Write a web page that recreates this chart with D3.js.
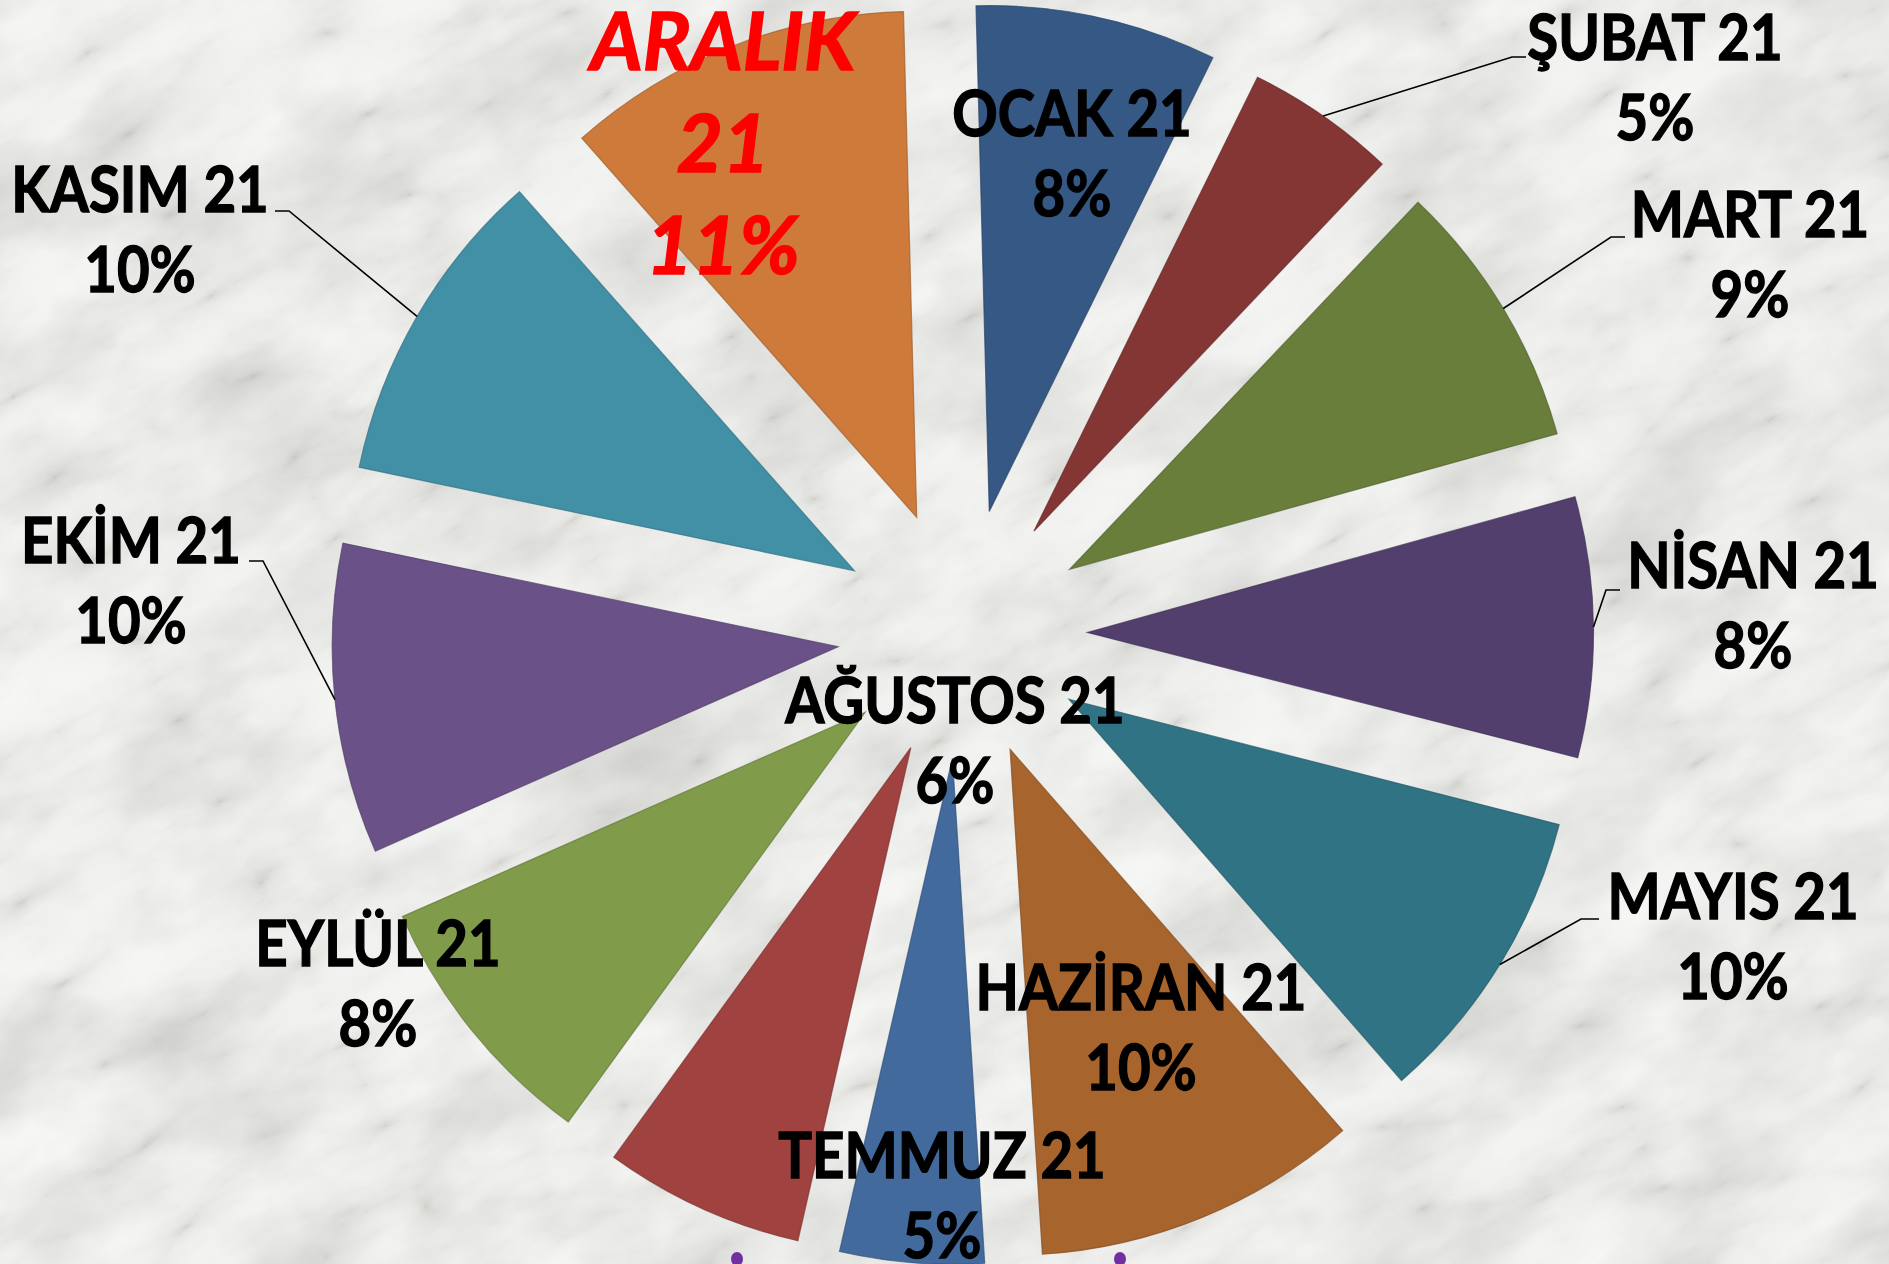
<!DOCTYPE html>
<html>
<head>
<meta charset="utf-8">
<script src="https://cdn.jsdelivr.net/npm/d3@7"></script>
<style>
  html, body { margin: 0; padding: 0; background: #f0f0ee; overflow: hidden; }
  svg { display: block; }
</style>
</head>
<body>
<svg id="chart" width="1889" height="1264"></svg>
<script>
// Monthly shares (percent of the year total)
const months = ["OCAK 21", "ŞUBAT 21", "MART 21", "NİSAN 21", "MAYIS 21", "HAZİRAN 21",
                "TEMMUZ 21", "AĞUSTOS 21", "EYLÜL 21", "EKİM 21", "KASIM 21", "ARALIK 21"];
const shares = [7.7, 4.8, 8.6, 8.3, 9.6, 10.4, 4.6, 6.4, 8.4, 9.9, 10.2, 11.1];
const sliceColors = ["#355885", "#843634", "#6a7e3b", "#533f6e", "#2f7385", "#a8642d",
                     "#426a9c", "#a04240", "#809b4a", "#6a5288", "#4190a6", "#cd7a3b"];

// Label placement: first-line baseline, and optional leader elbow
const labelLayout = [
  { x: 1072, y: 136 },
  { x: 1655, y: 60,  elbow: [1512, 57],  tail: 14 },
  { x: 1750, y: 237, elbow: [1611, 237], tail: 14 },
  { x: 1753, y: 588, elbow: [1606, 590], tail: 14 },
  { x: 1733, y: 919, elbow: [1581, 919], tail: 18 },
  { x: 1141, y: 1010 },
  { x: 942,  y: 1178 },
  { x: 955,  y: 723 },
  { x: 378,  y: 966 },
  { x: 131,  y: 563, elbow: [263, 561], tail: -14 },
  { x: 140,  y: 212, elbow: [289, 211], tail: -14 },
  { x: 723,  y: 70, highlight: true }
];

const W = 1889, H = 1264;
const cx = 962.5, cy = 633.7, R = 506, explode = 125;
const rotation = -1.5 * Math.PI / 180;
const fontSize = 64, lineGap = 80, squeeze = 0.88;

const svg = d3.select("#chart");
const defs = svg.append("defs");

// Marble backdrop: fine grey veins with a faint cloudy shading
const f = defs.append("filter").attr("id", "marble")
  .attr("x", 0).attr("y", 0).attr("width", "100%").attr("height", "100%")
  .attr("color-interpolation-filters", "sRGB");
f.append("feTurbulence").attr("type", "turbulence")
  .attr("baseFrequency", "0.0045 0.011").attr("numOctaves", 6).attr("seed", 11).attr("result", "t");
f.append("feColorMatrix").attr("in", "t").attr("type", "matrix")
  .attr("values", "0.34 0.33 0.33 0 0  0.34 0.33 0.33 0 0  0.34 0.33 0.33 0 0  0 0 0 0 1")
  .attr("result", "g");
const ct = f.append("feComponentTransfer").attr("in", "g").attr("result", "veins");
ct.append("feFuncR").attr("type", "table").attr("tableValues", "0.83 0.905 0.94 0.958 0.968 0.972 0.975");
ct.append("feFuncG").attr("type", "table").attr("tableValues", "0.83 0.905 0.94 0.958 0.968 0.972 0.975");
ct.append("feFuncB").attr("type", "table").attr("tableValues", "0.815 0.895 0.932 0.952 0.963 0.967 0.97");
f.append("feTurbulence").attr("type", "fractalNoise")
  .attr("baseFrequency", "0.006 0.009").attr("numOctaves", 4).attr("seed", 3).attr("result", "c");
f.append("feColorMatrix").attr("in", "c").attr("type", "matrix")
  .attr("values", "0 0 0 0 0.35  0 0 0 0 0.35  0 0 0 0 0.33  0 0 0 -0.35 0.2")
  .attr("result", "cloud");
f.append("feComposite").attr("in", "cloud").attr("in2", "veins").attr("operator", "over");

svg.append("rect").attr("width", W).attr("height", H).attr("fill", "#f0f0ee");
svg.append("g")
  .attr("transform", `rotate(-27 ${W / 2} ${H / 2})`)
  .append("rect")
  .attr("x", -700).attr("y", -700).attr("width", W + 1400).attr("height", H + 1400)
  .attr("filter", "url(#marble)");

// Exploded pie
const data = months.map((m, i) => ({ month: m, value: shares[i], color: sliceColors[i], i }));
const total = d3.sum(shares);
const pie = d3.pie().sort(null).value(d => d.value)
  .startAngle(rotation).endAngle(rotation + 2 * Math.PI);
const arc = d3.arc().innerRadius(0).outerRadius(R);
const arcs = pie(data);
arcs.forEach(a => {
  a.mid = (a.startAngle + a.endAngle) / 2;
  a.dx = explode * Math.sin(a.mid);
  a.dy = -explode * Math.cos(a.mid);
});

const pieG = svg.append("g").attr("transform", `translate(${cx},${cy})`);
pieG.selectAll("path.slice")
  .data(arcs)
  .join("path")
  .attr("class", "slice")
  .attr("transform", d => `translate(${d.dx},${d.dy})`)
  .attr("d", arc)
  .attr("fill", d => d.data.color)
  .attr("stroke", d => d3.color(d.data.color).darker(0.7))
  .attr("stroke-width", 1.2)
  .attr("stroke-opacity", 0.7);

// Leader lines
const leaderG = svg.append("g");
arcs.forEach((a, i) => {
  const L = labelLayout[i];
  if (!L.elbow) return;
  const sx = cx + a.dx + R * Math.sin(a.mid);
  const sy = cy + a.dy - R * Math.cos(a.mid);
  const pts = [[sx, sy], L.elbow, [L.elbow[0] + L.tail, L.elbow[1]]];
  leaderG.append("path")
    .attr("d", d3.line()(pts))
    .attr("fill", "none")
    .attr("stroke", "#000")
    .attr("stroke-width", 1.6);
});

// Data labels
const pct = v => Math.round(v / total * 100) + "%";
const labelG = svg.append("g")
  .attr("font-family", "Lato, 'Open Sans', sans-serif")
  .attr("font-weight", 700)
  .attr("text-anchor", "middle");

arcs.forEach((a, i) => {
  const L = labelLayout[i];
  if (L.highlight) {
    const g = labelG.append("g").attr("transform", `translate(${L.x},0)`);
    const parts = a.data.month.split(" ");
    const lines = [parts[0], parts[1], pct(a.data.value)];
    lines.forEach((t, k) => {
      g.append("text")
        .attr("x", 0).attr("y", L.y + k * 102)
        .attr("font-size", 80)
        .attr("font-style", "italic")
        .attr("fill", "#ff0000")
        .attr("stroke", "#ff0000").attr("stroke-width", 1.6)
        .text(t);
    });
  } else {
    const g = labelG.append("g").attr("transform", `translate(${L.x},0) scale(${squeeze},1)`);
    [a.data.month, pct(a.data.value)].forEach((t, k) => {
      g.append("text").attr("x", 0).attr("y", L.y + k * lineGap)
        .attr("font-size", fontSize).attr("fill", "#000")
        .attr("stroke", "#000").attr("stroke-width", 1.4)
        .text(t);
    });
  }
});

// Title dots peeking in at the bottom edge
svg.append("g").selectAll("ellipse")
  .data([737, 1120])
  .join("ellipse")
  .attr("cx", d => d).attr("cy", 1259)
  .attr("rx", 6).attr("ry", 7)
  .attr("fill", "#7030a0");
</script>
</body>
</html>
